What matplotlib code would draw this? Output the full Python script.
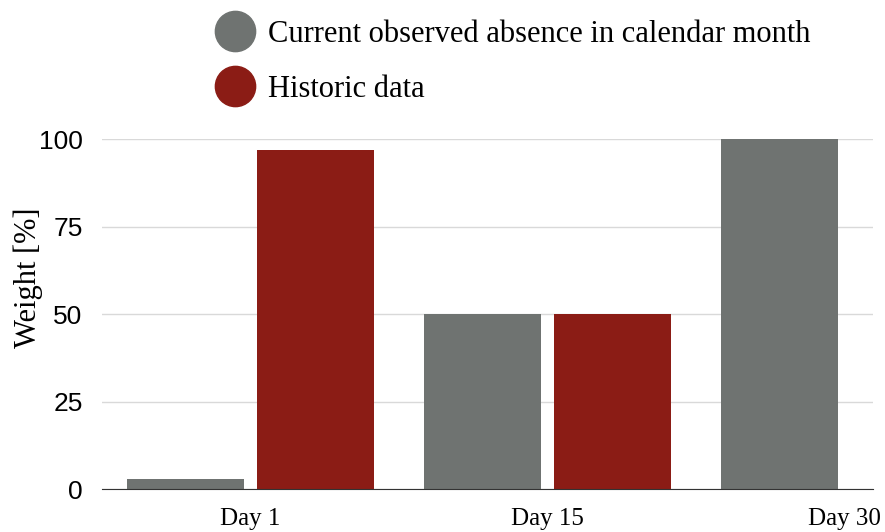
import numpy as np
import matplotlib.pyplot as plt
from matplotlib.lines import Line2D

# data
days = ['Day 1', 'Day 15', 'Day 30']
current = [3, 50, 100]
historic = [97, 50, 0]
labels = ['Current observed absence in calendar month', 'Historic data']

gray = '#6f7371'
red = '#8b1c15'
serif = 'Liberation Serif'
sans = 'Liberation Sans'

fig = plt.figure(figsize=(8.85, 5.32), dpi=100)
ax = fig.add_axes([0.1153, 0.0808, 0.8708, 0.6574])

x = np.arange(len(days))
w = 0.396
ax.bar(x - 0.219, current, w, color=gray, zorder=3)
ax.bar(x + 0.219, historic, w, color=red, zorder=3)

ax.set_xlim(-0.5, 2.095)
ax.set_ylim(0, 100)
ax.set_yticks([0, 25, 50, 75, 100])
ax.set_xticks(x)
ax.set_xticklabels(days, fontfamily=serif, fontsize=18)
for t in ax.get_yticklabels():
    t.set_fontfamily(sans)
    t.set_fontsize(19)
ax.tick_params(length=0)
ax.tick_params(axis='y', pad=14)
ax.tick_params(axis='x', pad=14)
ax.grid(axis='y', color='#d9d9d9', linewidth=1, zorder=0)
for s in ['top', 'right', 'left']:
    ax.spines[s].set_visible(False)
ax.spines['bottom'].set_color('#333333')
ax.spines['bottom'].set_zorder(4)
ax.set_ylabel('Weight [%]', fontfamily=serif, fontsize=22)
ax.yaxis.set_label_coords(-0.077, 0.605)

handles = [Line2D([], [], marker='o', linestyle='none', markersize=29, color=c)
           for c in (gray, red)]
fig.legend(handles, labels, loc='upper left', bbox_to_anchor=(213.7 / 885, 1 - 20 / 532),
           frameon=False, borderpad=0, borderaxespad=0, handlelength=1.4,
           handletextpad=0.38, labelspacing=0.84,
           prop={'family': serif, 'size': 22})

plt.savefig('out.png')
